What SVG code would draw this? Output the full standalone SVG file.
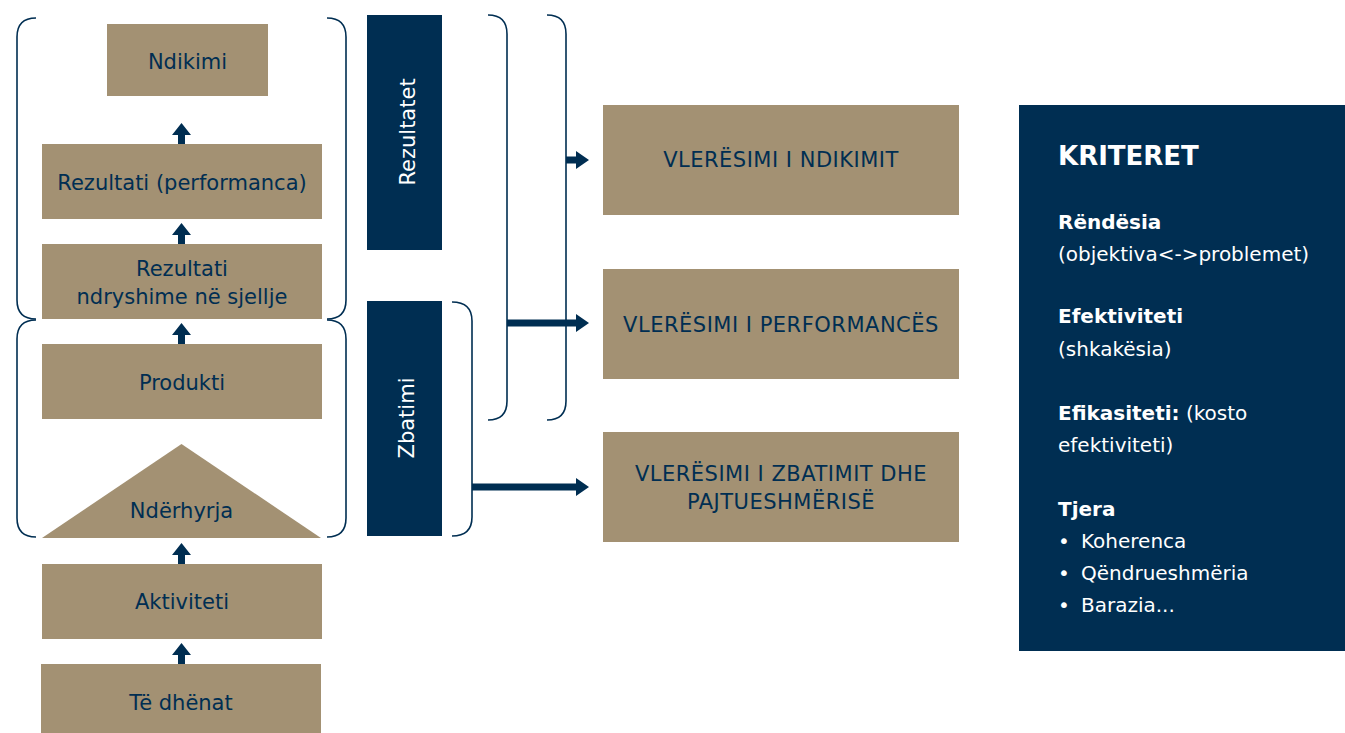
<svg xmlns="http://www.w3.org/2000/svg" width="1345" height="733" viewBox="0 0 1345 733">
<style>
.tan{fill:#a39173}
.navy{fill:#002e52}
.t{font-family:"DejaVu Sans","Liberation Sans",sans-serif;font-size:21px;fill:#002e52;text-anchor:middle}
.cap{font-family:"DejaVu Sans","Liberation Sans",sans-serif;font-size:21px;fill:#002e52;text-anchor:middle;letter-spacing:0.5px}
.w{font-family:"DejaVu Sans","Liberation Sans",sans-serif;font-size:20px;fill:#ffffff}
.b{font-weight:bold}
.br{fill:none;stroke:#002e52;stroke-width:1.6}
</style>
<defs>
<path id="up" d="M178,12 L185,12 L185,21 L178,21 Z M172,12 L181.5,0 L191,12 Z"/>
</defs>
<rect width="1345" height="733" fill="#ffffff"/>

<g id="brackets-left">
<path class="br" d="M36,18 Q17,18 17,37 L17,300 Q17,319 36,319"/>
<path class="br" d="M36,320 Q17,320 17,339 L17,518 Q17,537 36,537"/>
<path class="br" d="M327,18 Q346,18 346,37 L346,300 Q346,319 327,319"/>
<path class="br" d="M327,320 Q346,320 346,339 L346,518 Q346,537 327,537"/>
</g>

<g id="node-ndikimi"><rect class="tan" x="107" y="24" width="161" height="72"/><text class="t" x="187.5" y="69">Ndikimi</text></g>
<g id="node-rezultati-perf"><rect class="tan" x="42" y="144" width="280" height="75"/><text class="t" x="182" y="190">Rezultati (performanca)</text></g>
<g id="node-rezultati-ndr"><rect class="tan" x="42" y="244" width="280" height="75"/><text class="t" x="182" y="276">Rezultati</text><text class="t" x="182" y="304">ndryshime në sjellje</text></g>
<g id="node-produkti"><rect class="tan" x="42" y="344" width="280" height="75"/><text class="t" x="182" y="390">Produkti</text></g>
<g id="node-nderhyrja"><polygon class="tan" points="181.5,444 321,538 42,538"/><text class="t" x="181.5" y="518">Ndërhyrja</text></g>
<g id="node-aktiviteti"><rect class="tan" x="42" y="564" width="280" height="75"/><text class="t" x="182" y="609">Aktiviteti</text></g>
<g id="node-te-dhenat"><rect class="tan" x="41" y="664" width="280" height="69"/><text class="t" x="181" y="710">Të dhënat</text></g>

<g id="node-rezultatet"><rect class="navy" x="367" y="15" width="75" height="235"/><text class="w" style="font-size:21px" text-anchor="middle" transform="translate(415,132) rotate(-90)">Rezultatet</text></g>
<g id="node-zbatimi"><rect class="navy" x="367" y="301" width="75" height="235"/><text class="w" style="font-size:21px" text-anchor="middle" transform="translate(414,418) rotate(-90)">Zbatimi</text></g>

<g id="node-v-ndikimit"><rect class="tan" x="603" y="105" width="356" height="110"/><text class="cap" x="781" y="167">VLERËSIMI I NDIKIMIT</text></g>
<g id="node-v-performances"><rect class="tan" x="603" y="269" width="356" height="110"/><text class="cap" x="781" y="332">VLERËSIMI I PERFORMANCËS</text></g>
<g id="node-v-zbatimit"><rect class="tan" x="603" y="432" width="356" height="110"/><text class="cap" x="781" y="481">VLERËSIMI I ZBATIMIT DHE</text><text class="cap" x="781" y="509">PAJTUESHMËRISË</text></g>

<g id="node-kriteret">
<rect class="navy" x="1019" y="105" width="326" height="546"/>
<text class="w b" x="1058" y="165" style="font-size:26px">KRITERET</text>
<text class="w b" x="1058" y="229">Rëndësia</text>
<text class="w" x="1058" y="261">(objektiva&lt;-&gt;problemet)</text>
<text class="w b" x="1058" y="323">Efektiviteti</text>
<text class="w" x="1058" y="356">(shkakësia)</text>
<text class="w" x="1058" y="420"><tspan font-weight="bold">Efikasiteti:</tspan> (kosto</text>
<text class="w" x="1058" y="452">efektiviteti)</text>
<text class="w b" x="1058" y="516">Tjera</text>
<text class="w" x="1058" y="548">•</text><text class="w" x="1081" y="548">Koherenca</text>
<text class="w" x="1058" y="580">•</text><text class="w" x="1081" y="580">Qëndrueshmëria</text>
<text class="w" x="1058" y="612">•</text><text class="w" x="1081" y="612">Barazia...</text>
</g>

<g id="connectors" class="navy">
<use href="#up" y="123"/>
<use href="#up" y="223"/>
<use href="#up" y="323"/>
<use href="#up" y="543"/>
<use href="#up" y="643"/>
<path class="br" d="M488,15 Q507,15 507,34 L507,401 Q507,420 488,420"/>
<path class="br" d="M547,15 Q566,15 566,34 L566,401 Q566,420 547,420"/>
<path class="br" d="M452,302 Q472,302 472,321 L472,517 Q472,536 452,536"/>
<path d="M566,156.5 L576,156.5 L576,151 L589,160 L576,169 L576,163.5 L566,163.5 Z"/>
<path d="M507,319.5 L576,319.5 L576,314 L589,323 L576,332 L576,326.5 L507,326.5 Z"/>
<path d="M472,483.5 L576,483.5 L576,478 L589,487 L576,496 L576,490.5 L472,490.5 Z"/>
</g>
</svg>
